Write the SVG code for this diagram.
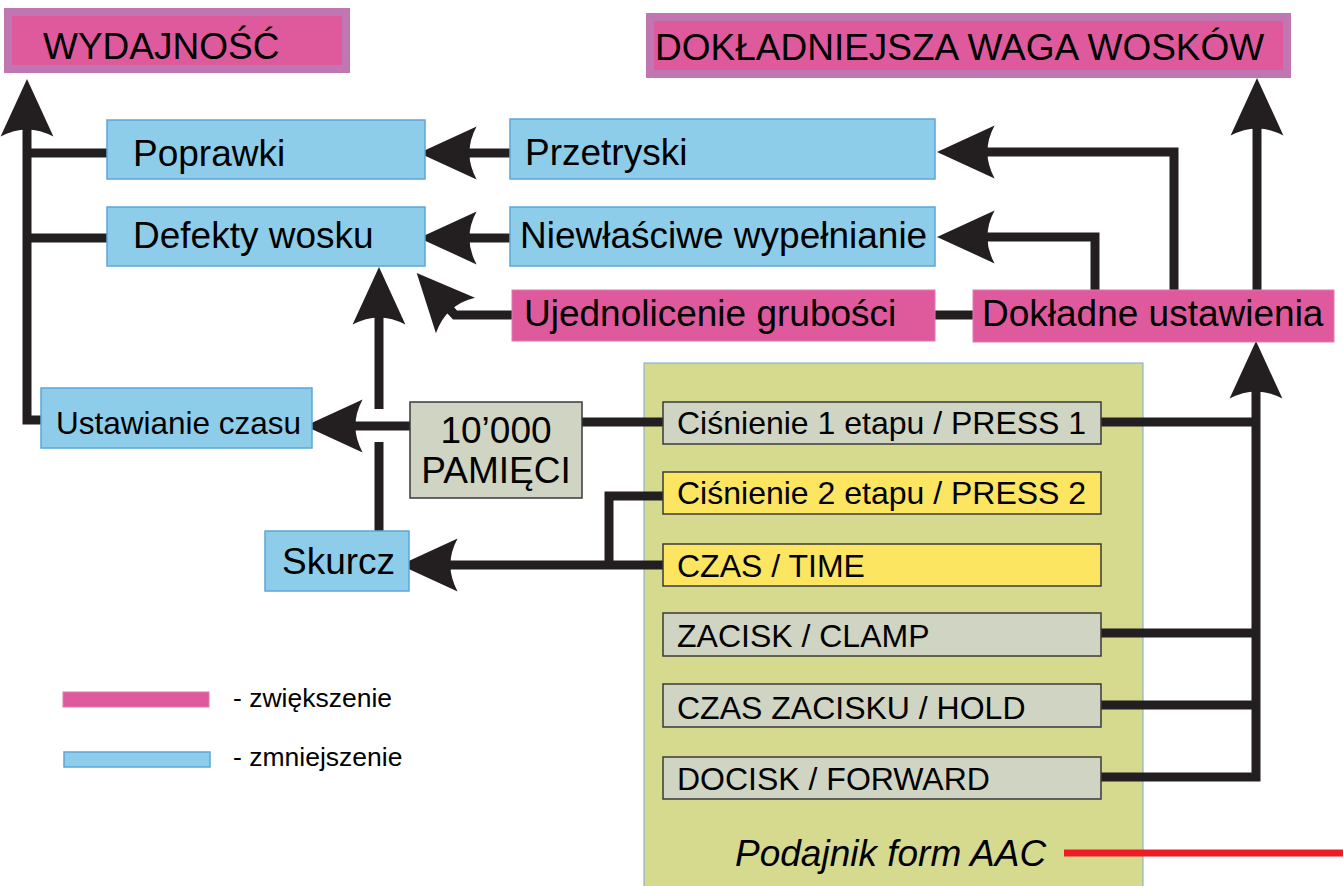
<svg xmlns="http://www.w3.org/2000/svg" width="1343" height="886" viewBox="0 0 1343 886">
<style>
text{font-family:"Liberation Sans",Arial,sans-serif;fill:#000}
.big{font-size:37px}
.mid{font-size:32px}
.sm{font-size:31.5px}
.leg{font-size:26.5px}
.head{fill:#de5a9c;stroke:#c077b1;stroke-width:8}
.pink{fill:#de5a9c;stroke:#e07ab0;stroke-width:1}
.blue{fill:#8ecde9;stroke:#5ea5d9;stroke-width:1.5}
.gray{fill:#d0d4c2;stroke:#3a3a3a;stroke-width:1.5}
.yel{fill:#fbe561;stroke:#3a3a3a;stroke-width:1.5}
.ln{fill:none;stroke:#231f20;stroke-width:9}
.arr{marker-end:url(#ah)}
</style>
<defs>
<marker id="ah" markerUnits="userSpaceOnUse" markerWidth="60" markerHeight="60" viewBox="0 -25 50 50" refX="8" refY="0" orient="auto" overflow="visible">
<path d="M48,0 L0,-22 Q12,0 0,22 Z" fill="#231f20"/>
</marker>
</defs>
<rect x="644" y="363" width="499" height="526" fill="#d6da8e" stroke="#7ba7d6" stroke-width="1"/>
<g id="connectors">
<path class="ln" d="M107,153 L27,153"/>
<path class="ln" d="M107,238 L27,238"/>
<path class="ln arr" d="M41,420 L27,420 L27,127"/>
<path class="ln arr" d="M510,153 L467,153"/>
<path class="ln arr" d="M510,238 L467,238"/>
<path class="ln arr" d="M512,315 L455,315 L449,308.4"/>
<path class="ln" d="M935,315 L973,315"/>
<path class="ln arr" d="M1174,290 L1174,152 L985,152"/>
<path class="ln arr" d="M1095,290 L1095,237 L985,237"/>
<path class="ln arr" d="M1257,290 L1257,126"/>
<path class="ln arr" d="M410,426 L353,426"/>
<path class="ln" d="M379,531 L379,442"/>
<path class="ln arr" d="M379,409 L379,315"/>
<path class="ln" d="M582,422 L663,422"/>
<path class="ln arr" d="M663,565 L448,565"/>
<path class="ln" d="M609,565 L609,496 L663,496"/>
<path class="ln" d="M1101,422 L1256,422"/>
<path class="ln" d="M1101,633 L1256,633"/>
<path class="ln" d="M1101,705 L1256,705"/>
<path class="ln arr" d="M1101,777 L1256,777 L1256,389"/>
<path d="M1064,853 L1343,853" stroke="#ee1c25" stroke-width="7"/>
</g>
<g id="wydajnosc"><rect class="head" x="8" y="12" width="338" height="57"/><text class="big" x="43" y="59">WYDAJNOŚĆ</text></g>
<g id="waga"><rect class="head" x="650" y="17" width="637" height="57"/><text class="big" x="655" y="60">DOKŁADNIEJSZA WAGA WOSKÓW</text></g>
<g id="poprawki"><rect class="blue" x="107" y="120" width="318" height="59"/><text class="big" x="133" y="166">Poprawki</text></g>
<g id="defekty"><rect class="blue" x="107" y="207" width="318" height="59"/><text class="big" x="133" y="248">Defekty wosku</text></g>
<g id="przetryski"><rect class="blue" x="510" y="119" width="425" height="60"/><text class="big" x="525" y="165">Przetryski</text></g>
<g id="niewlasciwe"><rect class="blue" x="510" y="207" width="425" height="59"/><text class="big" x="520" y="248">Niewłaściwe wypełnianie</text></g>
<g id="ujednolicenie"><rect class="pink" x="512" y="290" width="423" height="51"/><text class="big" x="524" y="326">Ujednolicenie grubości</text></g>
<g id="dokladne"><rect class="pink" x="973" y="290" width="361" height="52"/><text class="big" x="982" y="326">Dokładne ustawienia</text></g>
<g id="ustawianie"><rect class="blue" x="41" y="388" width="271" height="60"/><text class="sm" x="56" y="434">Ustawianie czasu</text></g>
<g id="pamieci"><rect class="gray" x="410" y="402" width="172" height="96"/><text class="big" x="496" y="443" text-anchor="middle">10’000</text><text class="big" x="496" y="483" text-anchor="middle">PAMIĘCI</text></g>
<g id="skurcz"><rect class="blue" x="265" y="531" width="144" height="60"/><text class="big" x="282" y="574">Skurcz</text></g>
<g id="press1"><rect class="gray" x="663" y="402" width="438" height="42"/><text class="mid" x="677" y="434">Ciśnienie 1 etapu / PRESS 1</text></g>
<g id="press2"><rect class="yel" x="663" y="472" width="438" height="42"/><text class="mid" x="677" y="504">Ciśnienie 2 etapu / PRESS 2</text></g>
<g id="time"><rect class="yel" x="663" y="544" width="438" height="42"/><text class="mid" x="677" y="577">CZAS / TIME</text></g>
<g id="clamp"><rect class="gray" x="663" y="613" width="438" height="43"/><text class="mid" x="677" y="647">ZACISK / CLAMP</text></g>
<g id="hold"><rect class="gray" x="663" y="684" width="438" height="43"/><text class="mid" x="677" y="719">CZAS ZACISKU / HOLD</text></g>
<g id="forward"><rect class="gray" x="663" y="757" width="438" height="42"/><text class="mid" x="677" y="790">DOCISK / FORWARD</text></g>
<g id="podajnik"><text x="735" y="866" style="font-size:37px;font-style:italic">Podajnik form AAC</text></g>
<g id="legend">
<rect x="63" y="692" width="146" height="15" fill="#de5a9c" stroke="#e07ab0" stroke-width="1"/>
<text class="leg" x="233" y="707">- zwiększenie</text>
<rect x="64" y="752" width="146" height="15" class="blue"/>
<text class="leg" x="233" y="766">- zmniejszenie</text>
</g>
</svg>
